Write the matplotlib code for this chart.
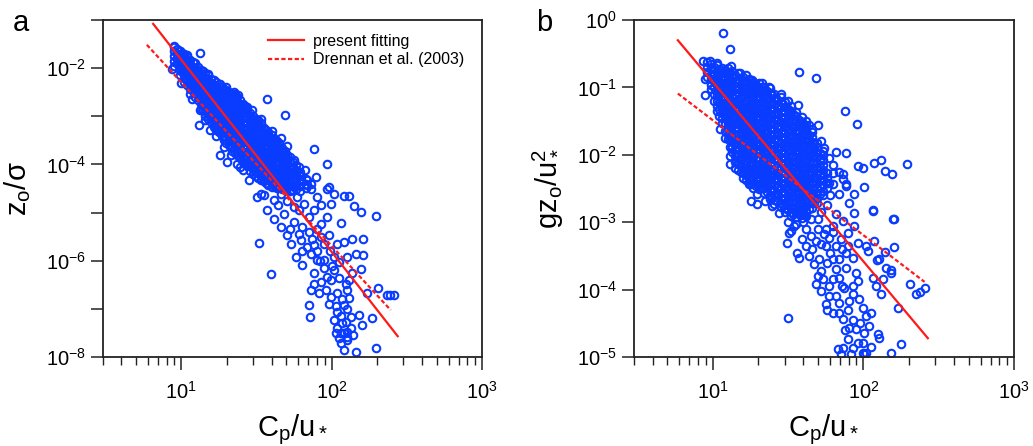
import numpy as np
import matplotlib
matplotlib.use("Agg")
import matplotlib.pyplot as plt
from matplotlib.lines import Line2D
from matplotlib.ticker import FixedLocator, FixedFormatter, LogLocator, NullFormatter, NullLocator

plt.rcParams['font.family'] = ['Liberation Sans', 'DejaVu Sans']
plt.rcParams['mathtext.fontset'] = 'custom'
plt.rcParams['mathtext.rm'] = 'Liberation Sans'
plt.rcParams['mathtext.it'] = 'Liberation Sans:italic'
plt.rcParams['mathtext.bf'] = 'Liberation Sans:bold'
plt.rcParams['mathtext.sf'] = 'Liberation Sans'

BLUE = '#0a3cff'
RED = '#ff1a1a'

# ---------------------------------------------------------------------------
# Panel a: z0/sigma against Cp/u*   (all point values stored as log10)
# dense part of the cloud, column by column: log10(Cp/u*) and log10(z0/sigma)
a_dense_cp = [0.95, 0.99, 1.02, 1.06, 1.09, 1.13, 1.16, 1.20, 1.23, 1.27, 1.30, 1.34, 1.37,
              1.41, 1.44, 1.48, 1.51, 1.55, 1.58, 1.62, 1.65, 1.69, 1.72, 1.76, 1.79, 1.83]
a_dense_z0 = [
    [-1.55, -1.65, -1.75, -1.85, -1.95],
    [-1.64, -1.74, -1.84, -1.94, -2.04, -2.14],
    [-1.70, -1.80, -1.90, -2.00, -2.10, -2.20, -2.28],
    [-1.83, -1.93, -2.03, -2.13, -2.23, -2.33, -2.43],
    [-1.90, -2.00, -2.10, -2.20, -2.30, -2.40, -2.50, -2.60],
    [-2.04, -2.14, -2.24, -2.34, -2.44, -2.54, -2.64, -2.74, -2.84],
    [-2.10, -2.20, -2.30, -2.40, -2.50, -2.60, -2.70, -2.80, -2.90, -3.00],
    [-2.22, -2.32, -2.42, -2.52, -2.62, -2.72, -2.82, -2.92, -3.02, -3.12],
    [-2.28, -2.38, -2.48, -2.58, -2.68, -2.78, -2.88, -2.98, -3.08, -3.18, -3.28],
    [-2.40, -2.50, -2.60, -2.70, -2.80, -2.90, -3.00, -3.10, -3.20, -3.30, -3.40],
    [-2.45, -2.55, -2.65, -2.75, -2.85, -2.95, -3.05, -3.15, -3.25, -3.35, -3.45, -3.55],
    [-2.54, -2.64, -2.74, -2.84, -2.94, -3.04, -3.14, -3.24, -3.34, -3.44, -3.54, -3.64, -3.72],
    [-2.60, -2.70, -2.80, -2.90, -3.00, -3.10, -3.20, -3.30, -3.40, -3.50, -3.60, -3.70, -3.80],
    [-2.74, -2.84, -2.94, -3.04, -3.14, -3.24, -3.34, -3.44, -3.54, -3.64, -3.74, -3.84, -3.94],
    [-2.84, -2.94, -3.04, -3.14, -3.24, -3.34, -3.44, -3.54, -3.64, -3.74, -3.84, -3.94, -4.04],
    [-3.00, -3.10, -3.20, -3.30, -3.40, -3.50, -3.60, -3.70, -3.80, -3.90, -4.00, -4.10, -4.20],
    [-3.08, -3.18, -3.28, -3.38, -3.48, -3.58, -3.68, -3.78, -3.88, -3.98, -4.08, -4.18, -4.28],
    [-3.24, -3.34, -3.44, -3.54, -3.64, -3.74, -3.84, -3.94, -4.04, -4.14, -4.24, -4.34],
    [-3.32, -3.42, -3.52, -3.62, -3.72, -3.82, -3.92, -4.02, -4.12, -4.22, -4.32, -4.42],
    [-3.47, -3.57, -3.67, -3.77, -3.87, -3.97, -4.07, -4.17, -4.27, -4.37, -4.47],
    [-3.55, -3.65, -3.75, -3.85, -3.95, -4.05, -4.15, -4.25, -4.35, -4.45],
    [-3.72, -3.82, -3.92, -4.02, -4.12, -4.22, -4.32, -4.42, -4.52],
    [-3.85, -3.95, -4.05, -4.15, -4.25, -4.35, -4.45, -4.55],
    [-4.02, -4.12, -4.22, -4.32, -4.42, -4.52],
    [-4.15, -4.25, -4.35, -4.45, -4.55],
    [-4.30, -4.40, -4.50],
]
# points lying between the columns above, where the cloud is thickest
a_dense_mid_cp = [0.97, 1.005, 1.04, 1.075, 1.11, 1.145, 1.18, 1.215, 1.25, 1.285, 1.32,
                  1.355, 1.39, 1.425, 1.46, 1.495, 1.53, 1.565, 1.60, 1.635, 1.67, 1.705, 1.74]
a_dense_mid_z0 = [
    [-1.60, -1.70, -1.80, -1.90],
    [-1.69, -1.79, -1.89, -1.99, -2.09],
    [-1.77, -1.87, -1.97, -2.07, -2.17, -2.27, -2.35],
    [-1.88, -1.98, -2.08, -2.18, -2.28, -2.38, -2.48],
    [-1.97, -2.07, -2.17, -2.27, -2.37, -2.47, -2.57, -2.67],
    [-2.07, -2.17, -2.27, -2.37, -2.47, -2.57, -2.67, -2.77, -2.87],
    [-2.15, -2.25, -2.35, -2.45, -2.55, -2.65, -2.75, -2.85, -2.95, -3.05],
    [-2.25, -2.35, -2.45, -2.55, -2.65, -2.75, -2.85, -2.95, -3.05, -3.15, -3.23],
    [-2.33, -2.43, -2.53, -2.63, -2.73, -2.83, -2.93, -3.03, -3.13, -3.23, -3.33],
    [-2.43, -2.53, -2.63, -2.73, -2.83, -2.93, -3.03, -3.13, -3.23, -3.33, -3.43, -3.50],
    [-2.50, -2.60, -2.70, -2.80, -2.90, -3.00, -3.10, -3.20, -3.30, -3.40, -3.50, -3.60],
    [-2.57, -2.67, -2.77, -2.87, -2.97, -3.07, -3.17, -3.27, -3.37, -3.47, -3.57, -3.67, -3.77],
    [-2.67, -2.77, -2.87, -2.97, -3.07, -3.17, -3.27, -3.37, -3.47, -3.57, -3.67, -3.77, -3.87],
    [-2.79, -2.89, -2.99, -3.09, -3.19, -3.29, -3.39, -3.49, -3.59, -3.69, -3.79, -3.89, -3.99],
    [-2.93, -3.03, -3.13, -3.23, -3.33, -3.43, -3.53, -3.63, -3.73, -3.83, -3.93, -4.03, -4.13],
    [-3.05, -3.15, -3.25, -3.35, -3.45, -3.55, -3.65, -3.75, -3.85, -3.95, -4.05, -4.15, -4.25],
    [-3.15, -3.25, -3.35, -3.45, -3.55, -3.65, -3.75, -3.85, -3.95, -4.05, -4.15, -4.25, -4.33],
    [-3.29, -3.39, -3.49, -3.59, -3.69, -3.79, -3.89, -3.99, -4.09, -4.19, -4.29, -4.38],
    [-3.39, -3.49, -3.59, -3.69, -3.79, -3.89, -3.99, -4.09, -4.19, -4.29, -4.39, -4.46],
    [-3.52, -3.62, -3.72, -3.82, -3.92, -4.02, -4.12, -4.22, -4.32, -4.42, -4.50],
    [-3.65, -3.75, -3.85, -3.95, -4.05, -4.15, -4.25, -4.35, -4.45, -4.52],
    [-3.80, -3.90, -4.00, -4.10, -4.20, -4.30, -4.40, -4.50],
    [-3.95, -4.05, -4.15, -4.25, -4.35, -4.45, -4.53],
]
# individual points around and below the dense part: (log10 Cp/u*, log10 z0/sigma)
a_sparse = [
    (0.949, -1.564), (0.993, -1.647), (1.127, -1.689), (0.938, -2.014), (1.071, -2.636),
    (1.120, -3.190), (1.260, -2.325), (1.349, -2.498), (1.376, -2.567), (1.438, -2.809),
    (1.571, -2.636), (1.687, -2.982), (1.704, -3.625), (1.882, -3.674), (1.967, -4.000),
    (1.820, -4.123), (1.893, -4.261), (1.260, -3.812), (1.304, -3.950), (1.393, -4.054),
    (1.838, -4.331), (1.449, -4.331), (1.360, -2.532), (1.982, -4.468), (1.793, -4.295),
    (1.838, -4.434), (1.040, -1.720), (1.180, -2.120), (1.300, -2.400), (1.470, -2.880),
    (1.530, -3.050), (1.600, -3.300), (1.660, -3.450), (1.750, -3.900), (1.780, -4.050),
    (1.860, -4.400), (1.000, -2.300), (1.060, -2.530), (1.127, -2.877), (1.160, -3.080),
    (1.193, -3.290), (1.230, -3.420), (1.282, -3.638), (1.330, -3.800), (1.371, -3.984),
    (1.410, -4.120), (1.527, -4.606),
    (1.505, -4.676), (1.549, -4.641), (1.616, -4.745), (1.660, -4.607), (1.727, -4.537),
    (1.771, -4.676), (1.860, -4.503), (1.905, -4.676), (1.971, -4.503), (2.016, -4.607),
    (2.083, -4.662), (2.116, -4.662), (2.149, -4.869), (2.194, -4.987), (2.294, -5.077),
    (1.571, -4.952), (1.616, -5.125), (1.683, -5.022), (1.749, -4.883), (1.816, -4.814),
    (1.883, -4.952), (1.927, -4.849), (1.994, -4.814), (1.971, -5.091), (1.927, -5.229),
    (2.060, -5.215), (1.520, -5.623), (1.594, -6.280), (1.705, -5.471), (1.727, -5.644),
    (1.760, -5.921), (1.805, -6.094), (1.860, -5.851), (1.883, -5.679), (1.927, -5.506),
    (1.983, -5.471), (2.038, -5.644), (2.083, -5.609), (2.138, -5.540), (2.211, -5.540),
    (2.211, -5.886), (2.160, -5.851), (2.105, -5.921), (2.049, -6.024), (2.016, -6.197),
    (1.971, -6.336), (1.927, -6.439), (1.883, -6.474), (1.860, -6.612), (1.849, -6.923),
    (1.856, -7.179), (1.916, -6.681), (1.960, -6.612), (1.994, -6.750), (2.038, -6.681),
    (2.105, -6.612), (2.116, -6.785), (2.083, -6.923), (2.038, -7.062), (2.016, -7.235),
    (2.038, -7.408), (2.060, -7.511), (2.105, -7.477), (2.094, -7.269), (2.127, -7.165),
    (2.183, -7.131), (2.205, -7.338), (2.271, -7.200), (2.194, -6.163), (2.138, -6.266),
    (2.116, -6.405), (2.094, -6.474), (2.305, -6.557), (2.367, -6.716), (2.389, -6.716),
    (2.416, -6.716), (2.238, -6.681), (2.060, -7.719), (2.083, -7.857), (2.160, -7.892),
    (2.294, -7.822), (1.994, -6.405), (1.905, -5.990), (1.838, -5.713), (1.794, -5.575),
    (1.949, -5.990), (2.016, -5.921), (2.082, -7.512), (2.104, -7.581), (2.027, -7.512),
    (1.640, -4.850), (1.700, -4.750), (1.780, -4.950), (1.850, -5.100), (1.800, -5.300),
    (1.750, -5.200), (1.660, -5.300), (1.720, -5.350), (1.850, -5.400), (1.900, -5.350),
    (1.950, -5.650), (1.900, -5.800), (1.800, -5.800), (1.780, -5.450), (1.870, -5.550),
    (1.990, -5.800), (1.950, -6.150), (1.880, -6.250), (2.000, -6.100), (2.050, -6.350),
    (1.920, -6.000), (2.070, -6.800), (2.030, -6.950), (2.060, -7.150), (2.100, -7.000),
    (1.980, -6.900), (2.070, -7.300), (2.130, -7.400), (2.100, -7.650), (2.050, -7.600),
    (2.140, -7.550),
]
# fitted lines (end points, linear units)
a_fit_cp = [6.5, 275.0]
a_fit_z0 = [8.3e-2, 2.7e-8]
a_drennan_cp = [5.9, 247.0]
a_drennan_z0 = [3.05e-2, 9.4e-8]

# ---------------------------------------------------------------------------
# Panel b: g z0/u*^2 against Cp/u*   (log10 values)
b_dense_cp = [0.96, 0.99, 1.03, 1.06, 1.10, 1.13, 1.17, 1.20, 1.24, 1.27, 1.31, 1.34,
              1.38, 1.41, 1.45, 1.48, 1.52, 1.55, 1.59, 1.62, 1.66, 1.69, 1.73, 1.76]
b_dense_gz = [
    [-0.62, -0.70, -0.77, -0.85],
    [-0.66, -0.73, -0.81, -0.88, -0.96, -1.03],
    [-0.67, -0.75, -0.82, -0.90, -0.97, -1.05, -1.12, -1.20, -1.27, -1.35],
    [-0.71, -0.78, -0.86, -0.93, -1.01, -1.08, -1.16, -1.23, -1.31, -1.38, -1.46, -1.53],
    [-0.71, -0.79, -0.86, -0.94, -1.01, -1.09, -1.16, -1.24, -1.31, -1.39, -1.46, -1.54,
     -1.61, -1.69, -1.76],
    [-0.76, -0.83, -0.91, -0.98, -1.06, -1.13, -1.21, -1.28, -1.36, -1.43, -1.51, -1.58,
     -1.66, -1.73, -1.81, -1.88, -1.96],
    [-0.79, -0.87, -0.94, -1.02, -1.09, -1.17, -1.24, -1.32, -1.39, -1.47, -1.54, -1.62,
     -1.69, -1.77, -1.84, -1.92, -1.99, -2.07, -2.14, -2.22],
    [-0.85, -0.92, -1.00, -1.07, -1.15, -1.22, -1.30, -1.37, -1.45, -1.52, -1.60, -1.67,
     -1.75, -1.82, -1.90, -1.97, -2.05, -2.12, -2.20, -2.27, -2.35],
    [-0.87, -0.95, -1.02, -1.10, -1.17, -1.25, -1.32, -1.40, -1.47, -1.55, -1.62, -1.70,
     -1.77, -1.85, -1.92, -2.00, -2.07, -2.15, -2.22, -2.29, -2.37, -2.44],
    [-0.92, -0.99, -1.07, -1.14, -1.22, -1.29, -1.37, -1.44, -1.52, -1.59, -1.67, -1.74,
     -1.82, -1.89, -1.97, -2.04, -2.12, -2.19, -2.27, -2.34, -2.42, -2.49],
    [-0.93, -1.01, -1.08, -1.16, -1.23, -1.31, -1.38, -1.46, -1.53, -1.61, -1.68, -1.76,
     -1.83, -1.91, -1.98, -2.06, -2.13, -2.21, -2.28, -2.36, -2.43, -2.51],
    [-0.99, -1.06, -1.14, -1.21, -1.29, -1.36, -1.44, -1.51, -1.59, -1.66, -1.74, -1.81,
     -1.89, -1.96, -2.04, -2.11, -2.19, -2.26, -2.34, -2.41, -2.49, -2.56],
    [-1.01, -1.09, -1.16, -1.24, -1.31, -1.39, -1.46, -1.54, -1.61, -1.69, -1.76, -1.84,
     -1.91, -1.99, -2.06, -2.14, -2.21, -2.29, -2.36, -2.44, -2.51, -2.59, -2.66],
    [-1.10, -1.17, -1.25, -1.32, -1.40, -1.47, -1.55, -1.62, -1.70, -1.77, -1.85, -1.92,
     -2.00, -2.07, -2.15, -2.22, -2.30, -2.37, -2.45, -2.52, -2.60, -2.67, -2.73],
    [-1.14, -1.22, -1.29, -1.37, -1.44, -1.52, -1.59, -1.67, -1.74, -1.82, -1.89, -1.97,
     -2.04, -2.12, -2.19, -2.27, -2.34, -2.42, -2.49, -2.57, -2.64, -2.71, -2.78],
    [-1.22, -1.29, -1.37, -1.44, -1.52, -1.59, -1.67, -1.74, -1.82, -1.89, -1.97, -2.04,
     -2.12, -2.19, -2.27, -2.34, -2.42, -2.49, -2.57, -2.64, -2.72, -2.79, -2.85],
    [-1.27, -1.35, -1.42, -1.50, -1.57, -1.65, -1.72, -1.80, -1.87, -1.95, -2.02, -2.10,
     -2.17, -2.25, -2.32, -2.40, -2.47, -2.55, -2.62, -2.70, -2.77, -2.85, -2.91],
    [-1.36, -1.43, -1.51, -1.58, -1.66, -1.73, -1.81, -1.88, -1.96, -2.03, -2.11, -2.18,
     -2.26, -2.33, -2.41, -2.48, -2.56, -2.63, -2.71, -2.78, -2.86, -2.93],
    [-1.44, -1.52, -1.59, -1.67, -1.74, -1.82, -1.89, -1.97, -2.04, -2.12, -2.19, -2.27,
     -2.34, -2.42, -2.49, -2.57, -2.64, -2.72, -2.79, -2.86, -2.94],
    [-1.56, -1.63, -1.71, -1.78, -1.86, -1.93, -2.01, -2.08, -2.16, -2.23, -2.31, -2.38,
     -2.46, -2.53, -2.61, -2.68, -2.76, -2.83, -2.91],
    [-1.66, -1.74, -1.81, -1.89, -1.96, -2.04, -2.11, -2.19, -2.26, -2.34, -2.41, -2.49,
     -2.56, -2.64, -2.71, -2.79],
    [-1.82, -1.89, -1.97, -2.04, -2.12, -2.19, -2.27, -2.34, -2.42, -2.49, -2.57, -2.64, -2.72],
    [-2.00, -2.08, -2.15, -2.23, -2.30, -2.38, -2.45, -2.53, -2.60],
    [-2.27, -2.34, -2.42, -2.49],
]
# points lying between the columns above
b_dense_mid_cp = [1.01, 1.045, 1.08, 1.115, 1.15, 1.185, 1.22, 1.255, 1.29, 1.325, 1.36,
                  1.395, 1.43, 1.465, 1.50, 1.535, 1.57, 1.605, 1.64, 1.675, 1.71]
b_dense_mid_gz = [
    [-0.70, -0.80, -0.90, -1.00, -1.10, -1.20],
    [-0.72, -0.82, -0.92, -1.02, -1.12, -1.22, -1.32, -1.42],
    [-0.74, -0.84, -0.94, -1.04, -1.14, -1.24, -1.34, -1.44, -1.54, -1.64],
    [-0.78, -0.88, -0.98, -1.08, -1.18, -1.28, -1.38, -1.48, -1.58, -1.68, -1.78, -1.88],
    [-0.82, -0.92, -1.02, -1.12, -1.22, -1.32, -1.42, -1.52, -1.62, -1.72, -1.82, -1.92,
     -2.02, -2.10],
    [-0.86, -0.96, -1.06, -1.16, -1.26, -1.36, -1.46, -1.56, -1.66, -1.76, -1.86, -1.96,
     -2.06, -2.16, -2.26],
    [-0.90, -1.00, -1.10, -1.20, -1.30, -1.40, -1.50, -1.60, -1.70, -1.80, -1.90, -2.00,
     -2.10, -2.20, -2.30, -2.38],
    [-0.93, -1.03, -1.13, -1.23, -1.33, -1.43, -1.53, -1.63, -1.73, -1.83, -1.93, -2.03,
     -2.13, -2.23, -2.33, -2.43],
    [-0.96, -1.06, -1.16, -1.26, -1.36, -1.46, -1.56, -1.66, -1.76, -1.86, -1.96, -2.06,
     -2.16, -2.26, -2.36, -2.46],
    [-1.00, -1.10, -1.20, -1.30, -1.40, -1.50, -1.60, -1.70, -1.80, -1.90, -2.00, -2.10,
     -2.20, -2.30, -2.40, -2.50],
    [-1.05, -1.15, -1.25, -1.35, -1.45, -1.55, -1.65, -1.75, -1.85, -1.95, -2.05, -2.15,
     -2.25, -2.35, -2.45, -2.55],
    [-1.12, -1.22, -1.32, -1.42, -1.52, -1.62, -1.72, -1.82, -1.92, -2.02, -2.12, -2.22,
     -2.32, -2.42, -2.52, -2.62],
    [-1.18, -1.28, -1.38, -1.48, -1.58, -1.68, -1.78, -1.88, -1.98, -2.08, -2.18, -2.28,
     -2.38, -2.48, -2.58, -2.68],
    [-1.25, -1.35, -1.45, -1.55, -1.65, -1.75, -1.85, -1.95, -2.05, -2.15, -2.25, -2.35,
     -2.45, -2.55, -2.65, -2.75],
    [-1.32, -1.42, -1.52, -1.62, -1.72, -1.82, -1.92, -2.02, -2.12, -2.22, -2.32, -2.42,
     -2.52, -2.62, -2.72, -2.82],
    [-1.40, -1.50, -1.60, -1.70, -1.80, -1.90, -2.00, -2.10, -2.20, -2.30, -2.40, -2.50,
     -2.60, -2.70, -2.80, -2.88],
    [-1.48, -1.58, -1.68, -1.78, -1.88, -1.98, -2.08, -2.18, -2.28, -2.38, -2.48, -2.58,
     -2.68, -2.78, -2.88],
    [-1.58, -1.68, -1.78, -1.88, -1.98, -2.08, -2.18, -2.28, -2.38, -2.48, -2.58, -2.68,
     -2.78, -2.88],
    [-1.70, -1.80, -1.90, -2.00, -2.10, -2.20, -2.30, -2.40, -2.50, -2.60, -2.70, -2.80],
    [-1.82, -1.92, -2.02, -2.12, -2.22, -2.32, -2.42, -2.52, -2.62, -2.72],
    [-1.98, -2.08, -2.18, -2.28, -2.38, -2.48, -2.58],
]
b_sparse = [
    (1.069, -0.188), (1.113, -0.435), (1.573, -0.767), (1.684, -0.856), (0.936, -0.613),
    (0.984, -0.613), (0.951, -0.870), (0.951, -1.118), (1.122, -0.683), (1.262, -0.895),
    (1.329, -0.930), (1.373, -0.989), (1.418, -1.152), (1.513, -1.385), (1.569, -1.266),
    (1.618, -1.498), (1.696, -1.562), (1.878, -1.350), (1.958, -1.548),
    (1.030, -0.640), (1.180, -0.780), (1.220, -0.820), (1.450, -1.100), (1.500, -1.200),
    (1.640, -1.560), (1.660, -1.620), (1.720, -1.800), (1.740, -1.900),
    (1.818, -1.958), (1.884, -1.978), (1.730, -1.950), (1.770, -2.050), (1.800, -2.150),
    (1.840, -2.250), (1.796, -2.264), (1.862, -2.289), (1.773, -2.413), (1.862, -2.363),
    (1.884, -2.462), (1.962, -2.166), (1.996, -2.191), (2.069, -2.117), (2.118, -2.082),
    (2.144, -2.240), (2.191, -2.290), (2.289, -2.132), (2.002, -2.473), (1.940, -2.586),
    (2.062, -2.819), (2.202, -2.948), (1.796, -2.438), (1.884, -2.438), (1.840, -2.587),
    (1.907, -2.710), (1.818, -2.883), (1.862, -2.982), (1.896, -3.155), (1.940, -2.859),
    (1.796, -3.056), (1.780, -2.600), (1.760, -2.750), (1.720, -2.850), (1.700, -2.950),
    (1.750, -3.100),
    (1.050, -1.620), (1.080, -1.750), (1.118, -2.018), (1.118, -2.141), (1.150, -2.200),
    (1.251, -2.686), (1.296, -2.587), (1.296, -2.735), (1.396, -2.760), (1.350, -2.680),
    (1.440, -2.860), (1.500, -3.000), (1.550, -3.020), (1.600, -3.000), (1.650, -2.950),
    (1.496, -3.304), (1.518, -3.131), (1.540, -3.056), (1.562, -3.452), (1.573, -3.526),
    (1.596, -3.254), (1.618, -3.106), (1.651, -3.205), (1.684, -3.279), (1.718, -3.328),
    (1.640, -3.502), (1.673, -3.625), (1.707, -3.551), (1.773, -3.230), (1.751, -3.353),
    (1.818, -3.353), (1.840, -3.551), (1.884, -3.452), (1.929, -3.526), (1.818, -3.699),
    (1.718, -3.724), (1.729, -3.848), (1.773, -3.947), (1.684, -3.922), (1.718, -4.021),
    (1.773, -4.095), (1.751, -4.219), (1.796, -4.342), (1.840, -4.194), (1.873, -3.971),
    (1.884, -3.675), (1.840, -3.823), (1.951, -3.749), (1.962, -3.872), (1.929, -3.947),
    (1.929, -4.070), (1.907, -4.169), (1.973, -4.144), (1.996, -4.268), (2.018, -4.392),
    (2.051, -4.342), (2.040, -4.540), (2.007, -4.639), (1.840, -4.342), (1.862, -4.441),
    (1.907, -4.565), (1.951, -4.590), (1.896, -4.738), (1.862, -4.862), (1.829, -4.886),
    (1.929, -4.862), (1.962, -4.788), (1.996, -4.936), (2.018, -4.936), (2.096, -4.664),
    (2.107, -4.713), (2.062, -3.823), (2.029, -3.427), (2.073, -3.279), (2.018, -3.353),
    (2.107, -3.551), (2.151, -3.675), (2.184, -3.749), (2.129, -3.848), (2.084, -3.947),
    (2.118, -4.070), (2.229, -4.268), (2.251, -4.812), (2.184, -4.936), (2.307, -3.922),
    (2.351, -4.070), (2.062, -2.834), (2.196, -2.957), (1.940, -3.056), (1.962, -3.304),
    (2.202, -3.363), (2.144, -3.442), (2.089, -3.561), (2.184, -3.709), (2.373, -4.036),
    (2.407, -3.971), (2.002, -4.960), (1.500, -4.426), (1.507, -3.155),
    (1.700, -3.100), (1.740, -3.180), (1.800, -3.150), (1.850, -3.250), (1.900, -3.350),
    (1.780, -3.450), (1.860, -3.400), (1.660, -3.400), (1.620, -3.350), (1.760, -3.600),
    (1.800, -3.550), (1.700, -3.800), (1.800, -3.850), (1.860, -3.950), (1.760, -4.300),
    (1.820, -4.100), (1.900, -4.300), (1.930, -4.450), (1.880, -4.600), (1.980, -4.500),
    (1.920, -4.950), (1.850, -4.950), (2.000, -4.800), (2.050, -4.850),
]
b_fit_cp = [5.87, 268.0]
b_fit_gz = [0.50, 1.9e-5]
b_drennan_cp = [5.87, 255.0]
b_drennan_gz = [8.1e-2, 1.3e-4]


def collect(column_sets, sparse):
    xs, ys = [], []
    for cols, col_vals in column_sets:
        for c, vals in zip(cols, col_vals):
            xs.extend([c] * len(vals))
            ys.extend(vals)
    for u, v in sparse:
        xs.append(u)
        ys.append(v)
    return 10.0 ** np.array(xs), 10.0 ** np.array(ys)


def style_axes(ax, ymin, ymax, ylabels):
    ax.set_xscale('log')
    ax.set_yscale('log')
    ax.set_xlim(3, 1000)
    ax.set_ylim(ymin, ymax)
    ax.xaxis.set_major_locator(FixedLocator([10, 100, 1000]))
    ax.xaxis.set_major_formatter(FixedFormatter([r'$10^{1}$', r'$10^{2}$', r'$10^{3}$']))
    ax.xaxis.set_minor_locator(LogLocator(base=10, subs=np.arange(2, 10), numticks=20))
    ax.xaxis.set_minor_formatter(NullFormatter())
    decades = [10.0 ** k for k in range(int(round(np.log10(ymin))), int(round(np.log10(ymax))) + 1)]
    ax.yaxis.set_major_locator(FixedLocator(decades))
    ax.yaxis.set_major_formatter(FixedFormatter(ylabels))
    ax.yaxis.set_minor_locator(NullLocator())
    ax.tick_params(axis='both', which='major', direction='out', length=9, width=1.1,
                   labelsize=14.5, color='#222222')
    ax.tick_params(axis='x', which='major', pad=8)
    ax.tick_params(axis='y', which='major', pad=3)
    ax.tick_params(axis='x', which='minor', direction='out', length=5.5, width=1.0,
                   color='#222222')
    for sp in ax.spines.values():
        sp.set_linewidth(1.3)
        sp.set_color('#222222')


marker_kw = dict(ls='none', marker='o', mfc='none', mec=BLUE, ms=5.4, mew=1.5, zorder=2)

fig = plt.figure(figsize=(10.33, 4.46), dpi=100)
ax_a = fig.add_axes([0.0994, 0.1996, 0.3672, 0.7556])
ax_b = fig.add_axes([0.6137, 0.1996, 0.3679, 0.7556])

# panel a
xa, ya = collect([(a_dense_cp, a_dense_z0), (a_dense_mid_cp, a_dense_mid_z0)], a_sparse)
ax_a.plot(xa, ya, **marker_kw)
ax_a.plot(a_fit_cp, a_fit_z0, color=RED, lw=1.6, zorder=3)
ax_a.plot(a_drennan_cp, a_drennan_z0, color=RED, lw=1.6, ls=(0, (1.9, 1.1)), zorder=3)
style_axes(ax_a, 1e-8, 1e-1,
           [r'$10^{-8}$', '', r'$10^{-6}$', '', r'$10^{-4}$', '', r'$10^{-2}$', ''])
ax_a.set_xlabel(r'$\mathrm{C_p/u_*}$', fontsize=21)
ax_a.set_ylabel(r'$\mathrm{z_o/\sigma}$', fontsize=21)
ax_a.yaxis.set_label_coords(-0.183, 0.5)
ax_a.xaxis.set_label_coords(0.5, -0.165)

handles = [Line2D([], [], color=RED, lw=1.6),
           Line2D([], [], color=RED, lw=1.6, ls=(0, (1.9, 1.1)))]
ax_a.legend(handles, ['present fitting', 'Drennan et al. (2003)'], loc='upper left',
            bbox_to_anchor=(0.42, 0.978), frameon=False, fontsize=11.5,
            handlelength=2.2, handletextpad=0.62, labelspacing=0.22, borderaxespad=0)

# panel b
xb, yb = collect([(b_dense_cp, b_dense_gz), (b_dense_mid_cp, b_dense_mid_gz)], b_sparse)
ax_b.plot(xb, yb, **marker_kw)
ax_b.plot(b_fit_cp, b_fit_gz, color=RED, lw=1.6, zorder=3)
ax_b.plot(b_drennan_cp, b_drennan_gz, color=RED, lw=1.6, ls=(0, (1.9, 1.1)), zorder=3)
style_axes(ax_b, 1e-5, 1e0,
           [r'$10^{-5}$', r'$10^{-4}$', r'$10^{-3}$', r'$10^{-2}$', r'$10^{-1}$', r'$10^{0}$'])
ax_b.set_xlabel(r'$\mathrm{C_p/u_*}$', fontsize=21)
ax_b.set_ylabel(r'$\mathrm{gz_o/u_*^2}$', fontsize=21)
ax_b.yaxis.set_label_coords(-0.183, 0.5)
ax_b.xaxis.set_label_coords(0.5, -0.165)

fig.text(0.0123, 0.931, 'a', fontsize=21)
fig.text(0.5186, 0.931, 'b', fontsize=21)

fig.savefig('out.png', dpi=100)
